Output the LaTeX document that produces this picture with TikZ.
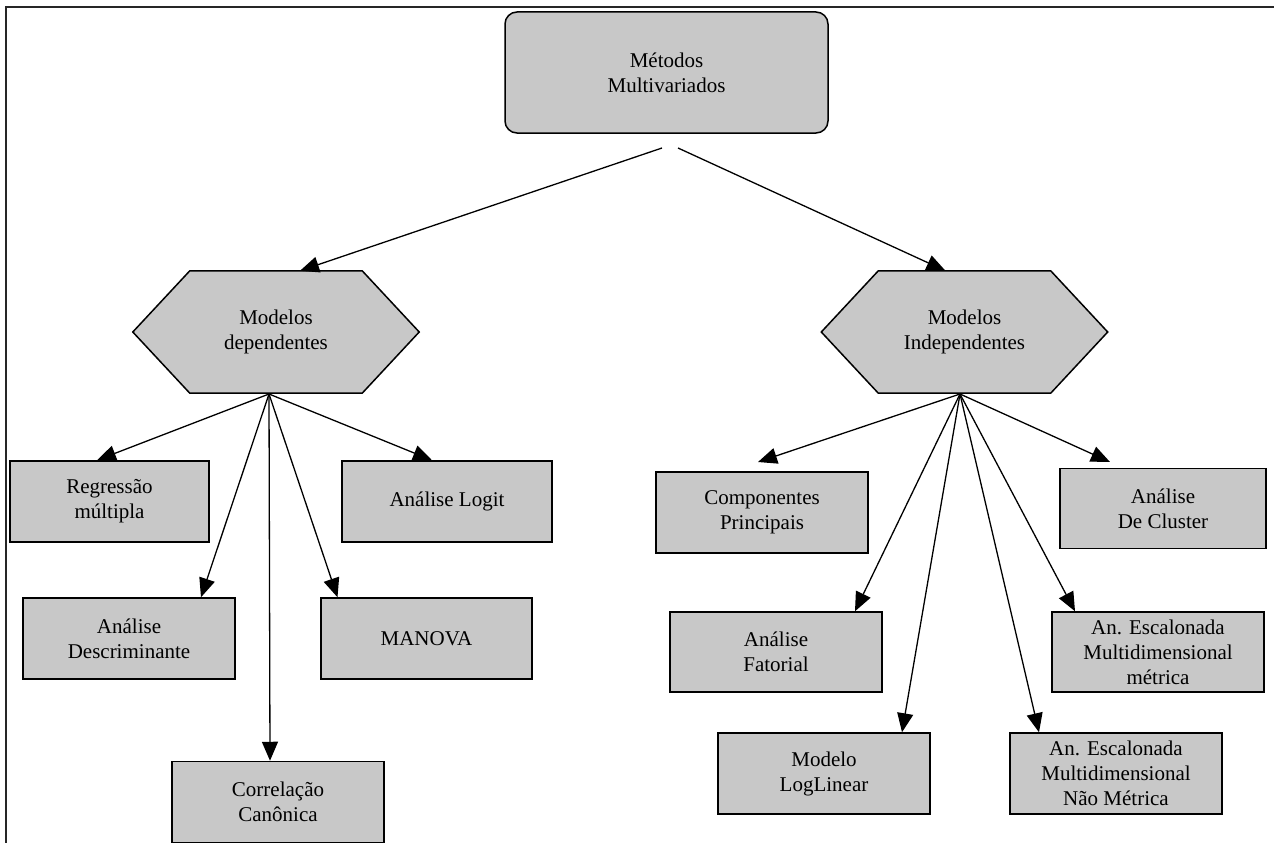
\documentclass[tikz,border=0pt]{standalone}
\usepackage{fontspec}
\setmainfont{Liberation Serif}
\usetikzlibrary{arrows.meta,backgrounds}
\definecolor{boxgray}{RGB}{200,200,200}
\begin{document}
\begin{tikzpicture}[x=1pt,y=-1pt,
  txt/.style={font=\fontsize{21}{25}\selectfont, align=center},
  box/.style={txt, draw=black, line width=1.5pt, fill=boxgray, rectangle,
    minimum width=#1, minimum height=81pt, inner sep=0pt},
  topbox/.style={txt, draw=black, line width=1.5pt, fill=boxgray, rectangle,
    rounded corners=12pt, minimum width=323pt, minimum height=121pt, inner sep=0pt},
  hexnode/.style={txt, minimum width=286pt, minimum height=122pt, inner sep=0pt},
  hexline/.style={draw=black, line width=1.5pt, fill=boxgray},
  arr/.style={draw=black, line width=1.3pt, -{Triangle[length=19pt,width=16pt]}},
  frame/.style={draw=black!85, line width=2pt}]
\useasboundingbox (0,0) rectangle (1274,843);
\draw[frame] (1274,7) -- (6,7) -- (6,843);

% top
\node[topbox] (top) at (666.5,72.5) {Métodos\\Multivariados};

% hexagons
\node[hexnode] (hexL) at (276,332) {Modelos\\dependentes};
\node[hexnode] (hexR) at (964.5,332) {Modelos\\Independentes};
\begin{scope}[on background layer]
\draw[hexline] ([xshift=57pt]hexL.north west) -- ([xshift=-57pt]hexL.north east) -- (hexL.east)
  -- ([xshift=-57pt]hexL.south east) -- ([xshift=57pt]hexL.south west) -- (hexL.west) -- cycle;
\draw[hexline] ([xshift=57pt]hexR.north west) -- ([xshift=-57pt]hexR.north east) -- (hexR.east)
  -- ([xshift=-57pt]hexR.south east) -- ([xshift=57pt]hexR.south west) -- (hexR.west) -- cycle;
\end{scope}

% left boxes
\node[box=199pt] (regr) at (109.5,501.5) {Regressão\\múltipla};
\node[box=210pt] (logit) at (447,501.5) {Análise Logit};
\node[box=212pt] (desc) at (129,638.5) {Análise\\Descriminante};
\node[box=211pt] (manova) at (426.5,638.5) {MANOVA};
\node[box=212pt] (corr) at (278,802) {Correlação\\Canônica};

% right boxes
\node[box=212pt] (comp) at (762,512.5) {Componentes\\Principais};
\node[box=206pt, minimum height=80pt] (clus) at (1163,508.5) {Análise\\De Cluster};
\node[box=212pt, minimum height=80pt] (fat) at (776,652) {Análise\\Fatorial};
\node[box=212pt, minimum height=80pt] (metr) at (1158,652) {An. Escalonada\\Multidimensional\\métrica};
\node[box=212pt, minimum height=81pt] (logl) at (824,773.5) {Modelo\\LogLinear};
\node[box=212pt, minimum height=81pt] (nmetr) at (1116,773.5) {An. Escalonada\\Multidimensional\\Não Métrica};

% connector coordinates
\coordinate (tL) at (662,148);
\coordinate (tR) at (678,148);
\coordinate (sL) at (269,394);
\coordinate (sR) at (960,394);
\coordinate (eComp) at (758,462);
\coordinate (eClus) at (1110,462);

% arrows from top
\draw[arr] (tL) -- ([xshift=24pt]hexL.north);
\draw[arr] (tR) -- ([xshift=-19pt]hexR.north);

% arrows left
\draw[arr] (sL) -- ([xshift=-12.5pt]regr.north);
\draw[arr] (sL) -- ([xshift=72pt]desc.north);
\draw[arr] (sL) -- ([xshift=-8pt]corr.north);
\draw[arr] (sL) -- ([xshift=-89pt]manova.north);
\draw[arr] (sL) -- ([xshift=-15pt]logit.north);

% arrows right
\draw[arr] (sR) -- (eComp);
\draw[arr] (sR) -- (eClus);
\draw[arr] (sR) -- ([xshift=79pt]fat.north);
\draw[arr] (sR) -- ([xshift=-83pt]metr.north);
\draw[arr] (sR) -- ([xshift=78pt]logl.north);
\draw[arr] (sR) -- ([xshift=-77pt]nmetr.north);
\end{tikzpicture}
\end{document}
